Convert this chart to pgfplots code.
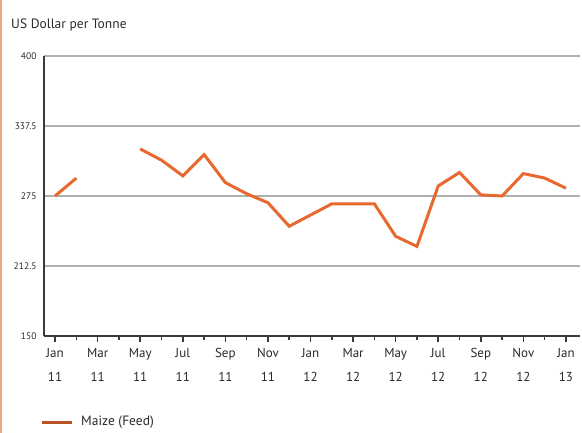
\documentclass[border=0pt]{standalone}
\usepackage{pgfplots}
\pgfplotsset{compat=1.18}
\usepackage{fontspec}
\setmainfont{PT Sans}
\definecolor{lineor}{HTML}{E8692F}
\definecolor{gridg}{HTML}{B0B0B0}
\definecolor{axg}{HTML}{3A3A3A}
\definecolor{txt}{HTML}{2A2A2A}
\begin{document}
\begin{tikzpicture}
\useasboundingbox (0,0) rectangle (582bp,433bp);
\fill[white] (0,0) rectangle (582bp,433bp);
\draw[line width=2bp, color=lineor!60] (1bp,0) -- (1bp,433bp);
\node[anchor=west, font=\fontsize{13.5bp}{14bp}\selectfont, text=txt, inner sep=0pt] at (11bp,408bp) {US Dollar per Tonne};
\begin{axis}[
  at={(44bp,97bp)}, anchor=south west,
  scale only axis, width=536bp, height=280bp,
  xmin=-0.52, xmax=24.66, ymin=150, ymax=400,
  axis lines*=left, axis line style={axg, line width=1.5bp},
  x axis line style={-}, y axis line style={-},
  ytick={150,212.5,275,337.5,400},
  yticklabels={150,212.5,275,337.5,400},
  ymajorgrids, grid style={gridg, line width=2.2bp},
  xtick={0,2,...,24}, minor xtick={1,3,...,23},
  xticklabels={Jan\\11,Mar\\11,May\\11,Jul\\11,Sep\\11,Nov\\11,Jan\\12,Mar\\12,May\\12,Jul\\12,Sep\\12,Nov\\12,Jan\\13},
  xticklabel style={align=center, font=\fontsize{13bp}{24bp}\selectfont, text=txt, yshift=-3bp},
  yticklabel style={font=\fontsize{9.5bp}{10bp}\selectfont, text=txt, xshift=2bp},
  /pgf/number format/assume math mode=true,
  tick align=outside, ytick style={draw=none},
  xtick style={axg, line width=1.5bp},
  major tick length=6bp, minor tick length=4bp,
  clip=false,
  unbounded coords=jump,
]
\addplot[lineor, line width=3bp] coordinates {
(0,275) (1,291) (2,nan) (3,nan)
(4,317) (5,307) (6,293) (7,312) (8,287) (9,277) (10,269) (11,248)
(12,258) (13,268) (14,268) (15,268) (16,239) (17,230) (18,284) (19,296)
(20,276) (21,275) (22,295) (23,291) (24,282)
};
\end{axis}
\draw[line width=3bp, color=lineor!80!black] (42bp,10bp) -- (72bp,10bp);
\node[anchor=west, font=\fontsize{13.5bp}{14bp}\selectfont, text=txt, inner sep=0pt] at (81bp,11bp) {Maize (Feed)};
\end{tikzpicture}
\end{document}
